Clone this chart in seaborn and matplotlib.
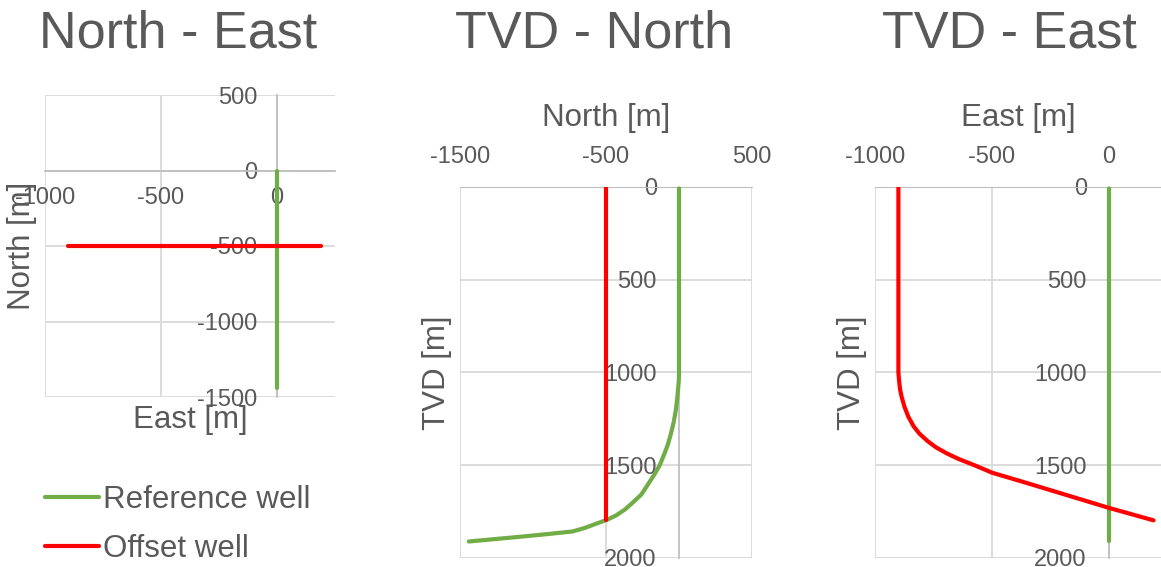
import matplotlib
matplotlib.use('Agg')
from matplotlib import pyplot as plt
import seaborn as sns

sns.set_style('white')
plt.rcParams['font.family'] = ['Liberation Sans', 'DejaVu Sans']
plt.rcParams['axes.unicode_minus'] = False

W, H = 1161, 567
GREEN = '#70AD47'
RED = '#FF0000'
TEXT = '#595959'
GRID = '#D9D9D9'
AXIS = '#BFBFBF'

# Reference well (vertical, then builds towards south)
ref_tvd = [0, 1000, 1040, 1078, 1140, 1205, 1270, 1332, 1390, 1440, 1500, 1549, 1600, 1658,
           1700, 1739, 1770, 1793, 1817, 1838, 1857, 1872, 1884, 1911]
ref_north = [0, 0, -1, -5, -12, -22, -37, -56, -77, -101, -132, -168, -210, -258,
             -315, -371, -430, -490, -574, -645, -730, -912, -1068, -1440]
ref_east = [0] * len(ref_tvd)

# Offset well (vertical, then builds towards east)
off_tvd = [0, 1000, 1045, 1090, 1132, 1185, 1240, 1290, 1330, 1370, 1403, 1435, 1465, 1500,
           1540, 1600, 1730, 1797]
off_east = [-900, -900, -897, -893, -886, -874, -857, -835, -810, -775, -740, -695, -645, -575,
            -500, -340, 0, 190]
off_north = [-500] * len(off_tvd)

ne_xticks = [-1000, -500, 0]
ne_yticks = [-1500, -1000, -500, 0, 500]
tn_xticks = [-1500, -500, 500]
te_xticks = [-1000, -500, 0]
tvd_ticks = [0, 500, 1000, 1500, 2000]

fig = plt.figure(figsize=(W / 100, H / 100), dpi=100)


def add_ax(left, top, right, bottom):
    return fig.add_axes([left / W, 1 - bottom / H, (right - left) / W, (bottom - top) / H])


def draw(ax, x, y, color, label=None):
    sns.lineplot(x=x, y=y, ax=ax, color=color, lw=3, estimator=None, sort=False,
                 solid_capstyle='round', solid_joinstyle='round', zorder=3,
                 legend=False, label=label)


def style(ax):
    ax.set_axisbelow(True)
    ax.grid(True, color=GRID, lw=1.3)
    for s in ax.spines.values():
        s.set_visible(False)
    ax.tick_params(length=0, labelsize=17, colors=TEXT)


# North - East
ax1 = add_ax(45, 95, 335, 397)
draw(ax1, ref_east, ref_north, GREEN, 'Reference well')
draw(ax1, off_east, off_north, RED, 'Offset well')
ax1.set_xlim(-1000, 250)
ax1.set_ylim(-1500, 500)
ax1.set_xticks(ne_xticks)
ax1.set_yticks(ne_yticks)
style(ax1)
for side in ['left', 'bottom']:
    ax1.spines[side].set_visible(True)
    ax1.spines[side].set_position(('data', 0))
    ax1.spines[side].set_color(AXIS)
    ax1.spines[side].set_linewidth(1.3)
ax1.tick_params(axis='x', pad=12)
ax1.tick_params(axis='y', pad=14)
ax1.set_xlabel('East [m]', fontsize=22.5, color=TEXT, va='center')
ax1.xaxis.set_label_coords(0.5, -23 / 302)
ax1.set_ylabel('North [m]', fontsize=22.5, color=TEXT, va='center')
ax1.yaxis.set_label_coords(-23 / 290, 0.5)

# TVD - North / TVD - East
panels = [
    (460, 752, ref_north, off_north, (-1500, 500), tn_xticks, 'North [m]'),
    (875, 1161, ref_east, off_east, (-1000, 222), te_xticks, 'East [m]'),
]
for left, right, ref_x, off_x, xlim, xticks, xlabel in panels:
    ax = add_ax(left, 187, right, 558)
    draw(ax, ref_x, ref_tvd, GREEN)
    draw(ax, off_x, off_tvd, RED)
    ax.set_xlim(*xlim)
    ax.set_ylim(2000, 0)
    ax.set_xticks(xticks)
    ax.set_yticks(tvd_ticks)
    style(ax)
    ax.xaxis.tick_top()
    ax.spines['top'].set_visible(True)
    ax.spines['top'].set_color(AXIS)
    ax.spines['left'].set_visible(True)
    ax.spines['left'].set_position(('data', 0))
    ax.spines['left'].set_color(AXIS)
    ax.spines['left'].set_linewidth(1.3)
    ax.tick_params(axis='x', pad=14)
    ax.tick_params(axis='y', pad=16)
    ax.set_xlabel(xlabel, fontsize=22.5, color=TEXT, va='center')
    ax.xaxis.set_label_coords(0.5, 1 + 69 / 371)
    ax.set_ylabel('TVD [m]', fontsize=22.5, color=TEXT, va='center')
    ax.yaxis.set_label_coords(-23 / (right - left), 0.5)

# Titles
for x, title in [(178, 'North - East'), (594, 'TVD - North'), (1009, 'TVD - East')]:
    fig.text(x / W, 1 - 34 / H, title, ha='center', va='center', fontsize=37.5, color=TEXT)

fig.legend(handles=ax1.lines[:2], labels=['Reference well', 'Offset well'],
           loc='upper left', bbox_to_anchor=(45 / W, 1 - 485 / H), frameon=False,
           fontsize=22.5, labelcolor=TEXT, handlelength=1.72, handletextpad=0.15,
           labelspacing=0.61, borderpad=0, borderaxespad=0)

fig.savefig('out.png', dpi=100)
